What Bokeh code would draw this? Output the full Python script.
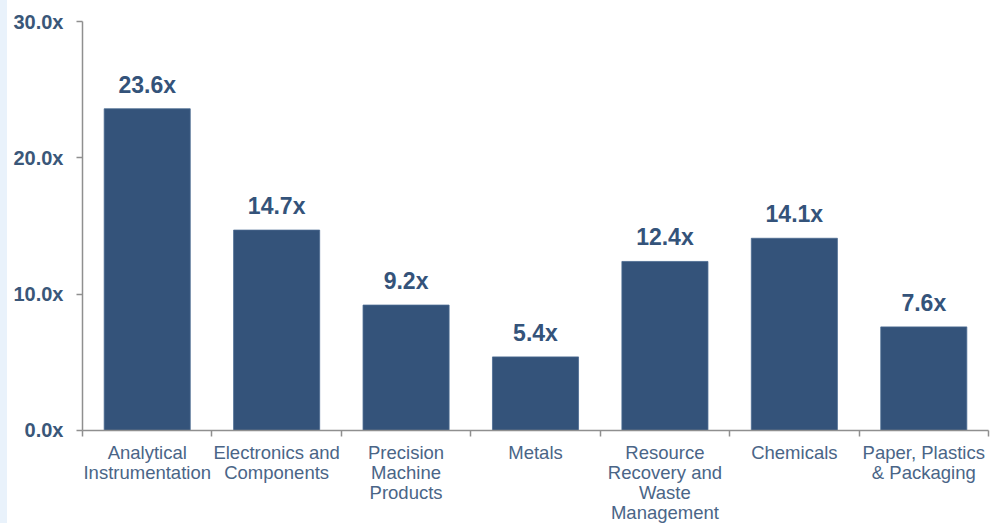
from bokeh.plotting import figure
from bokeh.models import ColumnDataSource, FixedTicker, Range1d, LinearAxis, Spacer
from bokeh.layouts import column, row
from bokeh.embed import file_html
from bokeh.resources import INLINE
from bokeh.core.properties import value

categories = ["Analytical\nInstrumentation", "Electronics and\nComponents",
              "Precision\nMachine\nProducts", "Metals",
              "Resource\nRecovery and\nWaste\nManagement", "Chemicals",
              "Paper, Plastics\n& Packaging"]
values = [23.6, 14.7, 9.2, 5.4, 12.4, 14.1, 7.6]
value_labels = ["23.6x", "14.7x", "9.2x", "5.4x", "12.4x", "14.1x", "7.6x"]
y_ticks = [0, 10, 20, 30]
y_tick_labels = ["0.0x", "10.0x", "20.0x", "30.0x"]

xs = [i + 0.5 for i in range(len(categories))]
src = ColumnDataSource(dict(x=xs, top=values, lbl=value_labels))

FONT = "Liberation Sans"
BAR = "#34537a"
STRIP = 7
W, H = 991 - STRIP, 523
BL, BR, BT = 82 - STRIP, 3, 21
H1 = 440          # top figure: frame bottom at y=430, axis ticks below
BB = H1 - 430
H2 = H - H1       # bottom figure holding the category labels
YMAX = 30

xr = Range1d(0, len(categories))

p = figure(width=W, height=H1, output_backend="svg", toolbar_location=None,
           x_range=xr, y_range=Range1d(0, YMAX),
           min_border_left=BL, min_border_right=BR, min_border_top=BT,
           min_border_bottom=BB, x_axis_location=None, y_axis_location=None)
p.outline_line_color = None
p.grid.visible = False

p.vbar(x="x", top="top", width=0.665, source=src, fill_color=BAR,
       line_color="#4a6a90", line_width=0.8)
p.text(x="x", y="top", text="lbl", source=src, text_align="center",
       text_baseline="alphabetic", y_offset=-24, text_font=value(FONT),
       text_font_style="bold", text_font_size="23px", text_color="#34537a")

yax = LinearAxis(ticker=FixedTicker(ticks=y_ticks),
                 major_label_overrides={t: l for t, l in zip(y_ticks, y_tick_labels)})
yax.axis_line_color = "#8f8f8f"
yax.axis_line_width = 1.5
yax.major_tick_line_color = "#8f8f8f"
yax.major_tick_line_width = 1.5
yax.major_tick_out = 6
yax.major_tick_in = 0
yax.minor_tick_line_color = None
yax.major_label_standoff = 13
yax.major_label_text_font = FONT
yax.major_label_text_font_style = "bold"
yax.major_label_text_font_size = "20px"
yax.major_label_text_color = "#3a5779"
p.add_layout(yax, "left")

xax = LinearAxis(ticker=FixedTicker(ticks=[], minor_ticks=list(range(len(categories) + 1))))
xax.axis_line_color = "#8f8f8f"
xax.axis_line_width = 1.5
xax.major_tick_line_color = None
xax.major_tick_out = 0
xax.major_label_standoff = 0
xax.minor_tick_line_color = "#8f8f8f"
xax.minor_tick_line_width = 1.5
xax.minor_tick_out = 6
xax.minor_tick_in = 0
xax.major_label_text_font_size = "0px"
p.add_layout(xax, "below")

# bottom strip: category labels, y measured in pixels from the top of this strip
q = figure(width=W, height=H2, output_backend="svg", toolbar_location=None,
           x_range=xr, y_range=Range1d(H2, 0),
           min_border_left=BL, min_border_right=BR, min_border_top=0,
           min_border_bottom=0, x_axis_location=None, y_axis_location=None)
q.outline_line_color = None
q.grid.visible = False

first_line = 441 - H1
line_step = 20.3
lx, ly, lt = [], [], []
for x, cat in zip(xs, categories):
    for j, line in enumerate(cat.split("\n")):
        lx.append(x)
        ly.append(first_line + j * line_step)
        lt.append(line)
q.text(x=lx, y=ly, text=lt, text_align="center", text_baseline="top",
       text_font=value(FONT), text_font_size="18.5px", text_color="#4a6587")

strip = Spacer(width=STRIP, height=H, styles={"background-color": "#e9f2fb"})
layout = row(strip, column(p, q, spacing=0), spacing=0)

open("out.html", "w").write(file_html(layout, INLINE))
